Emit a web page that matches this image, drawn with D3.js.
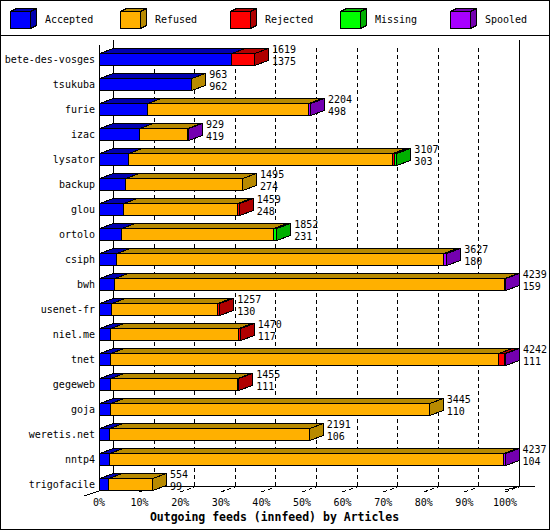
<!DOCTYPE html>
<html>
<head>
<meta charset="utf-8">
<script src="https://cdn.jsdelivr.net/npm/d3@7"></script>
<style>
  html, body { margin: 0; padding: 0; background: #fff; }
  svg { display: block; }
  text { font-family: "DejaVu Sans Mono", "Liberation Mono", monospace; fill: #000; }
</style>
</head>
<body>
<svg id="chart" width="550" height="530"></svg>
<script>
// ---- data ----
const categories = ["bete-des-vosges","tsukuba","furie","izac","lysator","backup","glou","ortolo","csiph","bwh","usenet-fr","niel.me","tnet","gegeweb","goja","weretis.net","nntp4","trigofacile"];
const offered  = [1619, 963, 2204, 929, 3107, 1495, 1459, 1852, 3627, 4239, 1257, 1470, 4242, 1455, 3445, 2191, 4237, 554];
const accepted = [1375, 962,  498, 419,  303,  274,  248,  231,  180,  159,  130,  117,  111,  111,  110,  106,  104,  99];
const refused  = [   0,   1, 1690, 497, 2763, 1221, 1197, 1590, 3417, 4072, 1102, 1333, 4053, 1332, 3335, 2085, 4121, 455];
const rejected = [ 244,   0,    0,   0,   15,    0,   14,    0,    0,    0,   25,   20,   68,   12,    0,    0,    0,   0];
const missing  = [   0,   0,    0,   0,   26,    0,    0,   31,    0,    0,    0,    0,    0,    0,    0,    0,    0,   0];
const spooled  = [   0,   0,   16,  13,    0,    0,    0,    0,   30,    8,    0,    0,   10,    0,    0,    0,   12,   0];
const seriesNames = ["Accepted","Refused","Rejected","Missing","Spooled"];
const seriesColors = ["#0000ff","#ffb000","#ff0000","#00ff00","#a800ff"];
const seriesDark   = ["#0000b0","#b88a00","#b00000","#00b000","#7400b0"];
const tickPercents = [0,10,20,30,40,50,60,70,80,90,100];
const tickLabels = ["0%","10%","20%","30%","40%","50%","60%","70%","80%","90%","100%"];
const chartTitle = "Outgoing feeds (innfeed) by Articles";

// ---- layout ----
const W = 550, H = 530;
const DX = 14, DY = 5;     // 3D depth offset
const BH = 12;             // bar front height
const svg = d3.select("#chart");
const series = [accepted, refused, rejected, missing, spooled];
const maxTotal = d3.max(offered);

const px = d3.scaleLinear().domain([0, 100]).range([99, 505]);
const xv = v => px(v / maxTotal * 100);
const y = d3.scalePoint().domain(categories).range([59, 484]);

const snap = v => Math.round(v) + 0.5;

// outer border
svg.append("rect").attr("x", 0.5).attr("y", 0.5).attr("width", W - 1).attr("height", H - 1)
  .attr("fill", "#fff").attr("stroke", "#000");
// legend separator
svg.append("line").attr("x1", 0).attr("x2", W).attr("y1", 35.5).attr("y2", 35.5).attr("stroke", "#000");

// ---- legend ----
const leg = svg.append("g").attr("shape-rendering", "crispEdges");
seriesNames.forEach((name, i) => {
  const lx = 10 + i * 110, ly = 11, lw = 20, lh = 17, ld = 6, lt = 3;
  const g = leg.append("g");
  g.append("polygon")
    .attr("points", [[lx, ly], [lx + ld, ly - lt], [lx + lw + ld, ly - lt], [lx + lw, ly]].map(p => p.map(snap).join(",")).join(" "))
    .attr("fill", seriesDark[i]).attr("stroke", "#000");
  g.append("polygon")
    .attr("points", [[lx + lw, ly], [lx + lw + ld, ly - lt], [lx + lw + ld, ly + lh - lt], [lx + lw, ly + lh]].map(p => p.map(snap).join(",")).join(" "))
    .attr("fill", seriesDark[i]).attr("stroke", "#000");
  g.append("rect").attr("x", snap(lx)).attr("y", snap(ly)).attr("width", lw).attr("height", lh)
    .attr("fill", seriesColors[i]).attr("stroke", "#000");
  g.append("text").attr("x", lx + 35).attr("y", 23).attr("font-size", 10).text(name);
});

// ---- back wall grid ----
const grid = svg.append("g").attr("shape-rendering", "crispEdges");
tickPercents.forEach(p => {
  const xb = snap(px(p) + DX);
  const solid = (p === 0 || p === 100);
  grid.append("line").attr("x1", xb).attr("x2", xb)
    .attr("y1", solid ? 40 : 48).attr("y2", 486)
    .attr("stroke", "#000")
    .attr("stroke-dasharray", solid ? null : "4,3");
});
// front left edge
grid.append("line").attr("x1", snap(px(0))).attr("x2", snap(px(0))).attr("y1", 45).attr("y2", 491).attr("stroke", "#000");
// floor lines
const floor = svg.append("g");
floor.append("line").attr("x1", px(0) + DX).attr("x2", px(100) + DX + 16).attr("y1", 486.5).attr("y2", 486.5)
  .attr("stroke", "#000").attr("shape-rendering", "crispEdges");
floor.append("line").attr("x1", px(0) - 15).attr("y1", 496).attr("x2", px(0) + DX).attr("y2", 486.5)
  .attr("stroke", "#000").attr("shape-rendering", "crispEdges");
floor.append("line").attr("x1", px(100)).attr("y1", 490).attr("x2", px(100) + DX).attr("y2", 486.5)
  .attr("stroke", "#000").attr("shape-rendering", "crispEdges");
tickPercents.forEach(p => {
  if (p === 0) return;
  const xf = px(p);
  floor.append("line").attr("x1", xf).attr("y1", 492).attr("x2", xf + DX).attr("y2", 487)
    .attr("stroke", "#000").attr("stroke-dasharray", "4,3").attr("shape-rendering", "crispEdges");
});

// axis labels (front)
svg.append("g").selectAll("text").data(tickPercents).join("text")
  .attr("x", p => px(p)).attr("y", 506).attr("text-anchor", "middle").attr("font-size", 10)
  .text((p, i) => tickLabels[i]);

// ---- bars ----
const bars = svg.append("g").attr("shape-rendering", "crispEdges");
categories.forEach((cat, r) => {
  const c = y(cat);
  const top = c - BH / 2, bot = c + BH / 2;
  let cum = 0, lastIdx = -1;
  const g = bars.append("g");
  series.forEach((s, k) => {
    const v = s[r];
    if (v <= 0) return;
    const x0 = snap(xv(cum)), x1 = snap(xv(cum + v));
    cum += v;
    lastIdx = k;
    // top face
    g.append("polygon")
      .attr("points", [[x0, snap(top)], [x0 + DX, snap(top) - DY], [x1 + DX, snap(top) - DY], [x1, snap(top)]].map(p => p.join(",")).join(" "))
      .attr("fill", seriesDark[k]).attr("stroke", "#000");
    // front face
    g.append("rect").attr("x", x0).attr("y", snap(top)).attr("width", Math.max(0, x1 - x0)).attr("height", BH)
      .attr("fill", seriesColors[k]).attr("stroke", "#000");
  });
  const xe = snap(xv(cum));
  g.append("polygon")
    .attr("points", [[xe, snap(top)], [xe + DX, snap(top) - DY], [xe + DX, snap(top) + BH - DY], [xe, snap(top) + BH]].map(p => p.join(",")).join(" "))
    .attr("fill", seriesDark[lastIdx]).attr("stroke", "#000");
  // value labels
  svg.append("text").attr("x", xv(cum) + DX + 4).attr("y", c - 6.5).attr("font-size", 10).text(offered[r]);
  svg.append("text").attr("x", xv(cum) + DX + 4).attr("y", c + 6).attr("font-size", 10).text(accepted[r]);
  // category label
  svg.append("text").attr("x", 95).attr("y", c + 4).attr("text-anchor", "end").attr("font-size", 10).text(cat);
});

// ---- title ----
svg.append("text").attr("x", 274.5).attr("y", 521).attr("text-anchor", "middle")
  .attr("font-size", 11.5).attr("font-weight", "bold").text(chartTitle);
</script>
</body>
</html>
